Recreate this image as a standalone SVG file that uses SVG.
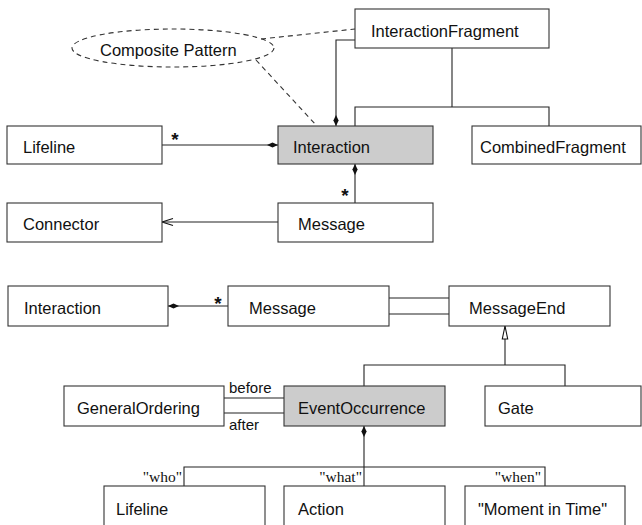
<svg xmlns="http://www.w3.org/2000/svg" width="642" height="525" viewBox="0 0 642 525">
<style>
.box{fill:#fff;stroke:#333;stroke-width:1.1}
.gray{fill:#cccccc;stroke:#333;stroke-width:1.1}
.lbl{font-family:"Liberation Sans",Arial,sans-serif;font-size:16.5px;fill:#111}
.small{font-family:"Liberation Sans",Arial,sans-serif;font-size:15px;fill:#111}
.role{font-family:"Liberation Serif","Times New Roman",serif;font-size:15.5px;fill:#111;text-anchor:end}
.star{font-family:"Liberation Sans",Arial,sans-serif;font-size:19px;font-weight:bold;fill:#111;text-anchor:middle}
.ln{fill:none;stroke:#222;stroke-width:1.1}
.dash{fill:none;stroke:#333;stroke-width:1.1;stroke-dasharray:5,4}
</style>
<defs>
<marker id="diamond" markerUnits="userSpaceOnUse" markerWidth="14" markerHeight="8" viewBox="-12 -4 13 8" refX="0" refY="0" orient="auto" overflow="visible"><path d="M0,0 L-5.5,-2.6 L-11,0 L-5.5,2.6Z" fill="#111"/></marker>
<marker id="open" markerUnits="userSpaceOnUse" markerWidth="14" markerHeight="10" viewBox="-12 -5 13 10" refX="0" refY="0" orient="auto" overflow="visible"><path d="M-11,-3.5 L0,0 L-11,3.5" fill="none" stroke="#111" stroke-width="1.1"/></marker>
<marker id="tri" markerUnits="userSpaceOnUse" markerWidth="16" markerHeight="8" viewBox="-14 -4 15 8" refX="0" refY="0" orient="auto" overflow="visible"><path d="M0,0 L-13,-2.7 L-13,2.7Z" fill="#fff" stroke="#111" stroke-width="1.1"/></marker>
</defs>

<g id="connectors">
<!-- composite pattern dashed -->
<line class="dash" x1="261" y1="39" x2="355" y2="29"/>
<line class="dash" x1="256" y1="60" x2="316" y2="125"/>
<!-- InteractionFragment composition to Interaction -->
<path class="ln" d="M355,40 H336 V126" marker-end="url(#diamond)"/>
<!-- generalization tree top -->
<path class="ln" d="M452,48 V107"/>
<path class="ln" d="M355,126 V107 H549 V126"/>
<!-- Lifeline to Interaction -->
<line class="ln" x1="162" y1="145" x2="278" y2="145" marker-end="url(#diamond)"/>
<!-- Message to Interaction -->
<line class="ln" x1="355" y1="203" x2="355" y2="164" marker-end="url(#diamond)"/>
<!-- Message to Connector -->
<line class="ln" x1="278" y1="222" x2="162" y2="222" marker-end="url(#open)"/>
<!-- bottom Message to Interaction -->
<line class="ln" x1="228" y1="306" x2="168" y2="306" marker-end="url(#diamond)"/>
<!-- Message to MessageEnd -->
<line class="ln" x1="389" y1="298" x2="449" y2="298"/>
<line class="ln" x1="389" y1="314" x2="449" y2="314"/>
<!-- generalization to MessageEnd -->
<path class="ln" d="M505,365 V326" marker-end="url(#tri)"/>
<path class="ln" d="M364,386 V365 H565 V386"/>
<!-- GeneralOrdering to EventOccurrence -->
<line class="ln" x1="224" y1="398" x2="284" y2="398"/>
<line class="ln" x1="224" y1="413" x2="284" y2="413"/>
<!-- EventOccurrence composition tree -->
<path class="ln" d="M364,467 V426" marker-end="url(#diamond)"/>
<path class="ln" d="M184,486 V467 H545 V486"/>
<path class="ln" d="M364,467 V486"/>
</g>

<g id="labels">
<text class="star" x="175" y="146">*</text>
<text class="star" x="345" y="202">*</text>
<text class="star" x="218" y="310">*</text>
<text class="small" x="229" y="393">before</text>
<text class="small" x="229" y="430">after</text>
<text class="role" x="182" y="482">"who"</text>
<text class="role" x="362" y="482">"what"</text>
<text class="role" x="541" y="482">"when"</text>
</g>

<g id="composite-pattern">
<ellipse cx="173" cy="48" rx="101" ry="19" class="dash"/>
<text class="lbl" x="100" y="56">Composite Pattern</text>
</g>

<g id="interaction-fragment">
<rect class="box" x="355" y="9" width="194" height="39"/>
<text class="lbl" x="371" y="37">InteractionFragment</text>
</g>
<g id="lifeline-top">
<rect class="box" x="7" y="126" width="155" height="38"/>
<text class="lbl" x="23" y="153">Lifeline</text>
</g>
<g id="interaction-top">
<rect class="gray" x="278" y="126" width="155" height="38"/>
<text class="lbl" x="293" y="153">Interaction</text>
</g>
<g id="combined-fragment">
<rect class="box" x="472" y="126" width="169" height="38"/>
<text class="lbl" x="480" y="153">CombinedFragment</text>
</g>
<g id="connector">
<rect class="box" x="7" y="203" width="155" height="39"/>
<text class="lbl" x="23" y="230">Connector</text>
</g>
<g id="message-top">
<rect class="box" x="278" y="203" width="155" height="39"/>
<text class="lbl" x="298" y="230">Message</text>
</g>
<g id="interaction-bottom">
<rect class="box" x="8" y="286" width="160" height="40"/>
<text class="lbl" x="24" y="314">Interaction</text>
</g>
<g id="message-bottom">
<rect class="box" x="228" y="286" width="161" height="40"/>
<text class="lbl" x="249" y="314">Message</text>
</g>
<g id="message-end">
<rect class="box" x="449" y="286" width="161" height="40"/>
<text class="lbl" x="469" y="314">MessageEnd</text>
</g>
<g id="general-ordering">
<rect class="box" x="64" y="386" width="160" height="40"/>
<text class="lbl" x="77" y="414">GeneralOrdering</text>
</g>
<g id="event-occurrence">
<rect class="gray" x="284" y="386" width="161" height="40"/>
<text class="lbl" x="298" y="414">EventOccurrence</text>
</g>
<g id="gate">
<rect class="box" x="485" y="386" width="156" height="40"/>
<text class="lbl" x="498" y="414">Gate</text>
</g>
<g id="lifeline-bottom">
<rect class="box" x="104" y="486" width="161" height="45"/>
<text class="lbl" x="116" y="515">Lifeline</text>
</g>
<g id="action">
<rect class="box" x="284" y="486" width="161" height="45"/>
<text class="lbl" x="298" y="515">Action</text>
</g>
<g id="moment-in-time">
<rect class="box" x="465" y="486" width="160" height="45"/>
<text class="lbl" x="478" y="515">"Moment in Time"</text>
</g>
</svg>
